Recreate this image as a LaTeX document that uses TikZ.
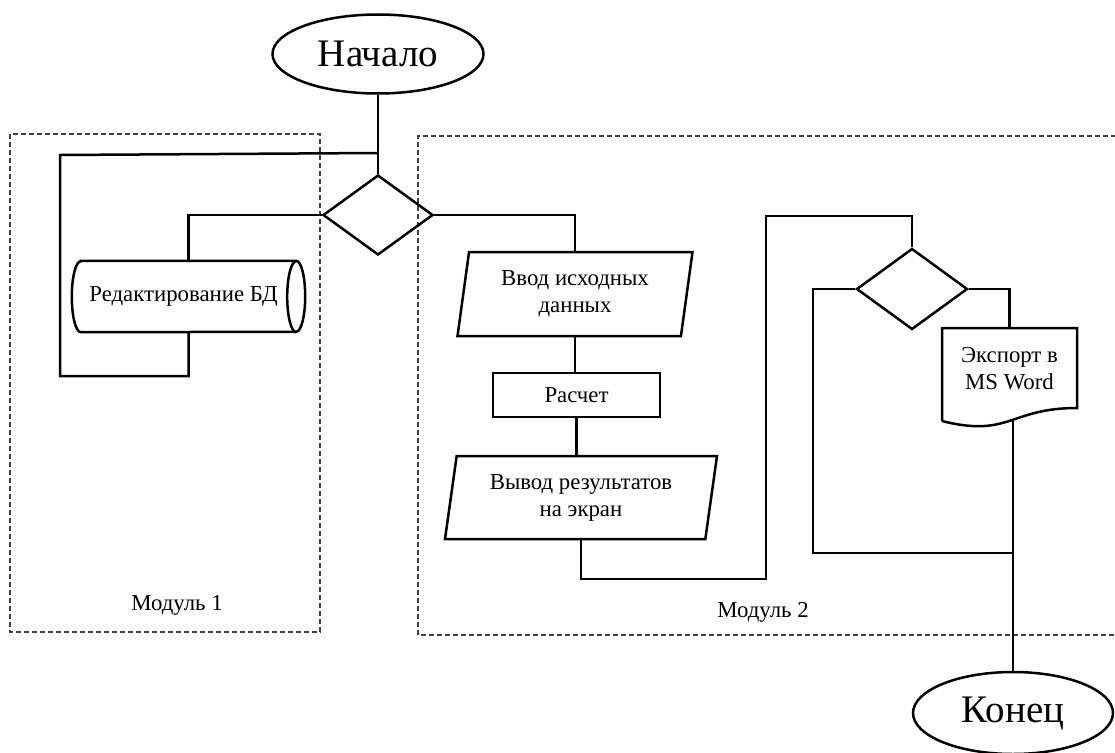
\documentclass[tikz,border=0pt]{standalone}
\usepackage{fontspec}
\setmainfont{LiberationSerif-Regular.ttf}
\usetikzlibrary{shapes.geometric}
\begin{document}
\begin{tikzpicture}[x=1pt,y=-1pt,
  conn/.style={line width=2.5pt, line join=miter},
  shapeline/.style={draw, line width=2.5pt},
  small/.style={font=\fontsize{22.8}{27}\selectfont},
  big/.style={font=\fontsize{39}{42}\selectfont},
  module/.style={draw=black!75, dash pattern=on 5pt off 3pt, line width=1.3pt},
  term/.style={shapeline, ellipse, inner sep=0pt, big},
  dec/.style={shapeline, diamond, inner sep=0pt, minimum width=110pt, minimum height=80pt},
  io/.style={shapeline, trapezium, trapezium left angle=76, trapezium right angle=104, trapezium stretches body, minimum height=84pt, align=center, small, inner sep=0pt},
  proc/.style={shapeline, rectangle, minimum width=167pt, minimum height=44pt, small},
  plain/.style={inner sep=0pt, small, align=center}
]
\useasboundingbox (0,0) rectangle (1115,752);

% module frames
\draw[module] (10,134) rectangle (320,632);
\draw[module] (1116,136) -- (418,136) -- (418,635) -- (1116,635);
\node[small] (m1) at (177,605) {Модуль 1};
\node[small] (m2) at (763,612) {Модуль 2};

% nodes
\node[term, minimum width=211pt, minimum height=79pt] (start) at (378,54) {Начало};
\node[dec] (d1) at (378,215) {};
\node[plain, minimum width=233pt, minimum height=71pt] (db) at (188.5,296.5) {\hspace*{-10pt}Редактирование БД};
\draw[shapeline] ([xshift=9pt]db.north west) -- ([xshift=-9pt]db.north east)
   arc(90:-90:9pt and 35.5pt) -- ([xshift=9pt]db.south west)
   arc(270:90:9pt and 35.5pt) -- cycle;
\draw[shapeline] ([xshift=-9pt]db.south east) arc(270:90:9pt and 35.5pt);

\node[io, minimum width=235pt] (in) at (575,294) {Ввод исходных\\данных};
\node[proc] (calc) at (576.5,395) {Расчет};
\node[io, minimum width=272pt, minimum height=83pt] (out) at (581,497.5) {Вывод результатов\\на экран};

\node[dec, minimum width=111pt, minimum height=81pt] (d2) at (912,289) {};

\node[plain, minimum width=135pt, minimum height=80pt] (exp) at (1009.5,369) {Экспорт в\\MS Word};
\draw[shapeline] (942,421) -- (942,328) -- (1077,328) -- (1077,408)
   .. controls (1009.5,408) and (1009.5,438) .. (942,421);
\coordinate (expb) at (1013,421);

\node[term, minimum width=200pt, minimum height=82pt] (end) at (1013,713) {Конец};

% connectors
\coordinate (j1) at (378,153);
\draw[conn] (start.south) -- (d1.north);
\draw[conn] (j1) -- (60,155) -- (60,376) -| (db.south);
\draw[conn] (d1.west) -| (db.north);
\draw[conn] (d1.east) -| (in.north);
\draw[conn] (in.south) -- (in.south |- calc.north);
\draw[conn] (calc.south) -- (calc.south |- out.north);
\coordinate (b1) at (766,579);
\coordinate (b2) at (766,216);
\draw[conn] (out.south) |- (b1) -- (b2) -| (d2.north);
\coordinate (j2) at (1013,553);
\draw[conn] (d2.west) -| (813,553) -- (j2);
\draw[conn] (d2.east) -| (exp.north);
\draw[conn] (expb) -- (end.north);
\end{tikzpicture}
\end{document}
